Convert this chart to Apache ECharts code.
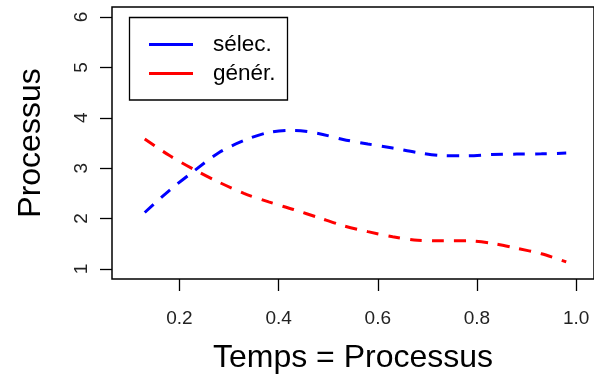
<!DOCTYPE html>
<html>
<head>
<meta charset="utf-8">
<script src="https://cdn.jsdelivr.net/npm/echarts@6/dist/echarts.min.js"></script>
<style>
  html, body { margin: 0; padding: 0; background: #fff; }
  #chart { width: 594px; height: 379px; }
</style>
</head>
<body>
<div id="chart"></div>
<script>
// Time axis (x) positions shared by both curves
const temps = [0.13, 0.18, 0.23, 0.28, 0.33, 0.38, 0.43, 0.48, 0.53,
               0.58, 0.63, 0.68, 0.73, 0.78, 0.83, 0.88, 0.93, 0.98];
// "sélec." curve
const selec = [2.12, 2.56, 2.95, 3.31, 3.55, 3.71, 3.75, 3.69, 3.57,
               3.48, 3.40, 3.31, 3.25, 3.245, 3.27, 3.28, 3.285, 3.30];
// "génér." curve
const gener = [3.58, 3.25, 2.97, 2.72, 2.50, 2.33, 2.18, 2.02, 1.86,
               1.74, 1.64, 1.57, 1.56, 1.56, 1.51, 1.41, 1.30, 1.14];

const xTicks = [0.2, 0.4, 0.6, 0.8, 1.0];
const yTicks = [1, 2, 3, 4, 5, 6];
const seriesNames = ['sélec.', 'génér.'];

const FONT = 'Liberation Sans, Arial, sans-serif';

const chart = echarts.init(document.getElementById('chart'), null, { renderer: 'canvas' });

function pairs(xs, ys) {
  return xs.map((x, i) => [x, ys[i]]);
}

const dashed = { type: [12, 10], width: 3 };

chart.setOption({
  animation: false,
  backgroundColor: '#fff',
  grid: {
    left: 112, top: 7, right: -2, bottom: 97,
    show: true, borderColor: '#000', borderWidth: 1.5,
    containLabel: false
  },
  xAxis: {
    type: 'value',
    min: 0.064, max: 1.036,
    name: 'Temps = Processus',
    nameLocation: 'middle',
    nameGap: 63,
    nameTextStyle: { fontFamily: FONT, fontSize: 32, color: '#000' },
    axisLine: { show: false },
    splitLine: { show: false },
    axisTick: {
      show: true, inside: false, length: 12,
      customValues: xTicks,
      lineStyle: { color: '#000', width: 1.3 }
    },
    axisLabel: {
      customValues: xTicks,
      margin: 30,
      fontFamily: FONT, fontSize: 19, color: '#222',
      formatter: v => v.toFixed(1)
    }
  },
  yAxis: {
    type: 'value',
    min: 0.8, max: 6.2,
    name: 'Processus',
    nameLocation: 'middle',
    nameGap: 65,
    nameTextStyle: { fontFamily: FONT, fontSize: 32, color: '#000' },
    axisLine: { show: false },
    splitLine: { show: false },
    axisTick: {
      show: true, inside: false, length: 12,
      customValues: yTicks,
      lineStyle: { color: '#000', width: 1.3 }
    },
    axisLabel: {
      customValues: yTicks,
      rotate: 90,
      margin: 21,
      fontFamily: FONT, fontSize: 19, color: '#222',
      formatter: v => String(v)
    }
  },
  legend: {
    data: seriesNames,
    orient: 'vertical',
    left: 149, top: 33,
    padding: 0,
    itemGap: 6,
    icon: 'rect',
    itemWidth: 44,
    itemHeight: 3,
    textStyle: {
      fontFamily: FONT, fontSize: 22.5, lineHeight: 22, color: '#000',
      padding: [0, 0, 0, 15]
    }
  },
  graphic: [{
    type: 'rect',
    silent: true,
    shape: { x: 129.5, y: 17.5, width: 158, height: 82.5 },
    style: { fill: null, stroke: '#000', lineWidth: 1.3 }
  }],
  series: [
    {
      name: seriesNames[0],
      type: 'line',
      data: pairs(temps, selec),
      symbol: 'none',
      smooth: 0.3,
      color: '#0000ff',
      lineStyle: Object.assign({ color: '#0000ff' }, dashed)
    },
    {
      name: seriesNames[1],
      type: 'line',
      data: pairs(temps, gener),
      symbol: 'none',
      smooth: 0.3,
      color: '#ff0000',
      lineStyle: Object.assign({ color: '#ff0000' }, dashed)
    }
  ]
});
</script>
</body>
</html>
